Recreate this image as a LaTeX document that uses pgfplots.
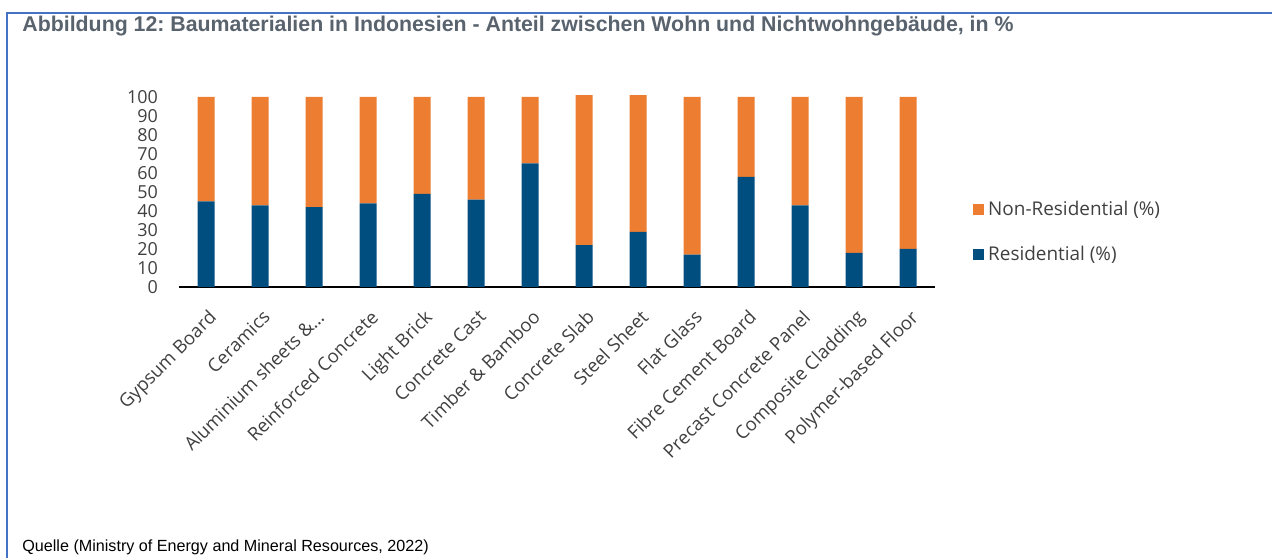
\documentclass[border=0pt]{standalone}
\usepackage{pgfplots}
\pgfplotsset{compat=1.18}
\usepackage{fontspec}
\setmainfont{Open Sans}
\newfontfamily\arialfont{Liberation Sans}
\definecolor{resBlue}{RGB}{0,78,128}
\definecolor{nonresOrange}{RGB}{237,125,49}
\definecolor{frameBlue}{RGB}{68,114,196}
\definecolor{titleGray}{RGB}{89,99,110}
\definecolor{labelGray}{RGB}{64,64,64}
\frenchspacing

\pgfplotstableread{
x res nonres
0 45 55
1 43 57
2 42 58
3 44 56
4 49 51
5 46 54
6 65 35
7 22 79
8 29 72
9 17 83
10 58 42
11 43 57
12 18 82
13 20 80
}\mattable

\begin{document}
\begin{tikzpicture}[x=0.5bp,y=0.5bp]
\useasboundingbox (0,0) rectangle (1272,558);
\draw[frameBlue, line width=1.2bp] (7,0) -- (7,545) -- (1272,545);
\node[anchor=base west, inner sep=0, text=titleGray,
      font=\arialfont\bfseries\fontsize{10.7}{12}\selectfont] at (22,526)
  {Abbildung 12: Baumaterialien in Indonesien - Anteil zwischen Wohn und Nichtwohngebäude, in \%};
\node[anchor=base west, inner sep=0, text=black,
      font=\arialfont\fontsize{8.1}{9}\selectfont] at (22,6)
  {Quelle (Ministry of Energy and Mineral Resources, 2022)};
\coordinate (axorig) at (179,271);
\begin{axis}[
  at={(axorig)}, anchor=south west,
  scale only axis, width=378bp, height=95bp,
  ybar stacked, bar width=8.5bp,
  xmin=-0.5, xmax=13.5, ymin=0, ymax=100,
  clip=false,
  axis x line*=bottom, axis y line*=left,
  x axis line style={-, black, line width=1bp},
  y axis line style={draw=none},
  tick style={draw=none},
  xtick={0,...,13},
  xticklabels={Gypsum Board, Ceramics, Aluminium sheets \&…, Reinforced Concrete,
    Light Brick, Concrete Cast, Timber \& Bamboo, Concrete Slab, Steel Sheet,
    Flat Glass, Fibre Cement Board, Precast Concrete Panel, Composite Cladding,
    Polymer-based Floor},
  x tick label style={rotate=45, anchor=north east, font=\fontsize{9.3}{10}\selectfont,
    text=labelGray, inner sep=1bp, yshift=-7bp, xshift=-6bp},
  ytick={0,10,...,100},
  y tick label style={font=\fontsize{9}{10}\selectfont, text=labelGray, xshift=-7bp},
  /pgf/number format/assume math mode=true,
  reverse legend,
  legend style={at={(1.050,0.289)}, anchor=west, draw=none, fill=none, inner sep=0pt,
    font=\fontsize{9.5}{11}\selectfont, text=labelGray, row sep=10bp},
  legend cell align=left,
  legend image code/.code={\fill[#1] (0bp,-2.75bp) rectangle (5.5bp,2.75bp);},
]
\addplot[fill=resBlue, draw=none] table[x=x, y=res] {\mattable};
\addplot[fill=nonresOrange, draw=none] table[x=x, y=nonres] {\mattable};
\legend{Residential (\%), Non-Residential (\%)}
\end{axis}
\end{tikzpicture}
\end{document}
